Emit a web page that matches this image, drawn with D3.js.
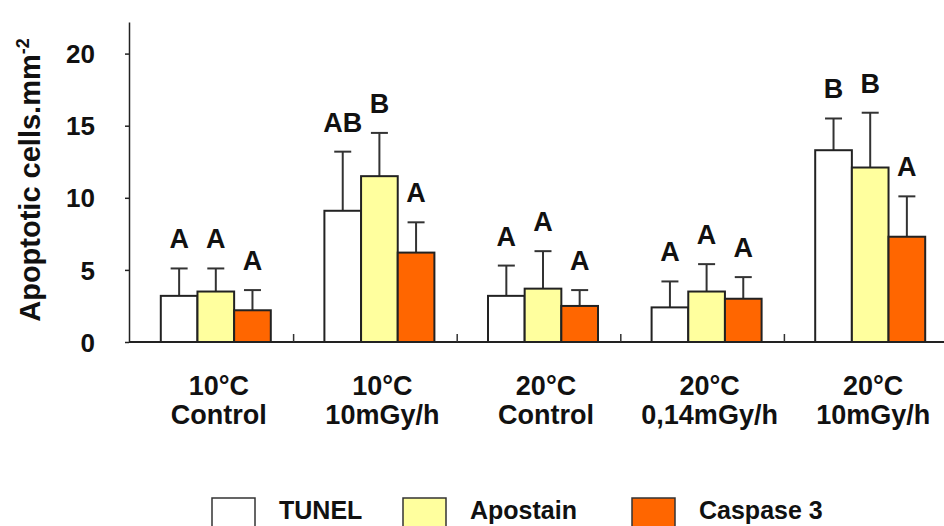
<!DOCTYPE html>
<html>
<head>
<meta charset="utf-8">
<script src="https://cdn.jsdelivr.net/npm/d3@7/dist/d3.min.js"></script>
<style>
  html, body { margin: 0; padding: 0; background: #fff; }
  svg { display: block; }
  text { font-family: "Liberation Sans", Arial, Helvetica, sans-serif; font-weight: bold; fill: #111; }
</style>
</head>
<body>
<svg id="chart" width="944" height="526"></svg>
<script>
// Treatment groups (two-line x labels)
const groupTemps = ["10°C", "10°C", "20°C", "20°C", "20°C"];
const groupDoses = ["Control", "10mGy/h", "Control", "0,14mGy/h", "10mGy/h"];
const groups = groupTemps.map((t, i) => t + " " + groupDoses[i]);

// Staining methods
const methods = ["TUNEL", "Apostain", "Caspase 3"];

// Mean apoptotic cells per mm² for each method, per group
const tunelMean    = [3.2, 9.1, 3.2, 2.4, 13.3];
const apostainMean = [3.5, 11.5, 3.7, 3.5, 12.1];
const caspaseMean  = [2.2, 6.2, 2.5, 3.0, 7.3];

// Upper end of error bars (mean + SD)
const tunelUpper    = [5.1, 13.2, 5.3, 4.2, 15.5];
const apostainUpper = [5.1, 14.5, 6.3, 5.4, 15.9];
const caspaseUpper  = [3.6, 8.3, 3.6, 4.5, 10.1];

// Significance letters
const tunelLetters    = ["A", "AB", "A", "A", "B"];
const apostainLetters = ["A", "B", "A", "A", "B"];
const caspaseLetters  = ["A", "A", "A", "A", "A"];

const yTicks = [0, 5, 10, 15, 20];
const yMax = 22.2;

const colors = ["#ffffff", "#ffff9e", "#ff6600"];

const svg = d3.select("#chart");

const x = d3.scaleBand().domain(groups).range([134, 952]).paddingInner(0);
const xInner = d3.scaleBand().domain(methods).range([-55, 55]).padding(0);
const y = d3.scaleLinear().domain([0, yMax]).range([342, 342 - yMax * 14.42]);

const means = [tunelMean, apostainMean, caspaseMean];
const uppers = [tunelUpper, apostainUpper, caspaseUpper];
const letters = [tunelLetters, apostainLetters, caspaseLetters];

const rows = [];
groups.forEach((g, gi) => {
  methods.forEach((m, mi) => {
    rows.push({ g, m, mi, mean: means[mi][gi], upper: uppers[mi][gi], letter: letters[mi][gi] });
  });
});

const cx = d => x(d.g) + x.bandwidth() / 2 + xInner(d.m) + xInner.bandwidth() / 2;

// Error bars (drawn first so bars cover the stems)
const eb = svg.append("g").attr("stroke", "#333").attr("stroke-width", 2);
eb.selectAll("line.stem").data(rows).join("line")
  .attr("x1", cx).attr("x2", cx)
  .attr("y1", d => y(d.mean)).attr("y2", d => y(d.upper));
eb.selectAll("line.cap").data(rows).join("line")
  .attr("x1", d => cx(d) - 8.5).attr("x2", d => cx(d) + 8.5)
  .attr("y1", d => y(d.upper)).attr("y2", d => y(d.upper));

// Bars
svg.append("g").selectAll("rect").data(rows).join("rect")
  .attr("x", d => x(d.g) + x.bandwidth() / 2 + xInner(d.m))
  .attr("y", d => y(d.mean))
  .attr("width", xInner.bandwidth())
  .attr("height", d => y(0) - y(d.mean))
  .attr("fill", d => colors[d.mi])
  .attr("stroke", "#222")
  .attr("stroke-width", 2);

// Letters above error bars
svg.append("g").selectAll("text").data(rows).join("text")
  .attr("x", cx)
  .attr("y", d => y(d.upper) - 20)
  .attr("text-anchor", "middle")
  .attr("font-size", 27)
  .text(d => d.letter);

// Y axis
const yAxis = svg.append("g").attr("transform", "translate(129,0)")
  .call(d3.axisLeft(y).tickValues(yTicks).tickSize(4).tickPadding(30).tickSizeOuter(0));
yAxis.select(".domain").attr("stroke", "#222").attr("stroke-width", 1.5);
yAxis.selectAll(".tick line").attr("stroke", "#222").attr("stroke-width", 1.5);
yAxis.selectAll(".tick text").attr("font-size", 26).attr("font-family", null).attr("fill", "#111").attr("dy", "0.35em");

// X axis line with small inward ticks between groups
const xAxis = svg.append("g");
xAxis.append("line")
  .attr("x1", 129).attr("x2", 944)
  .attr("y1", y(0)).attr("y2", y(0))
  .attr("stroke", "#222").attr("stroke-width", 2);
xAxis.selectAll("line.tick").data(groups.slice(1)).join("line")
  .attr("class", "tick")
  .attr("x1", d => x(d) - 4).attr("x2", d => x(d) - 4)
  .attr("y1", y(0)).attr("y2", y(0) - 8)
  .attr("stroke", "#333").attr("stroke-width", 1.5);

// Group labels
const gl = svg.append("g").selectAll("text").data(groups).join("text")
  .attr("text-anchor", "middle")
  .attr("font-size", 27)
  .attr("transform", d => `translate(${x(d) + x.bandwidth() / 2 + 3},0)`);
gl.append("tspan").attr("x", 0).attr("y", 395).text((d, i) => groupTemps[i]);
gl.append("tspan").attr("x", 0).attr("y", 424).text((d, i) => groupDoses[i]);

// Y axis title
const yt = svg.append("text")
  .attr("transform", "translate(40,180) rotate(-90)")
  .attr("text-anchor", "middle")
  .attr("font-size", 29);
yt.append("tspan").text("Apoptotic cells.mm");
yt.append("tspan").attr("font-size", 18).attr("dy", -11).text("-2");

// Legend
const legendX = [212, 403, 632];
const lg = svg.append("g").selectAll("g").data(methods).join("g")
  .attr("transform", (d, i) => `translate(${legendX[i]},498)`);
lg.append("rect").attr("width", 43).attr("height", 30)
  .attr("fill", (d, i) => colors[i]).attr("stroke", "#333").attr("stroke-width", 1.5);
lg.append("text").attr("x", 67).attr("y", 21).attr("font-size", 25).text(d => d);
</script>
</body>
</html>
